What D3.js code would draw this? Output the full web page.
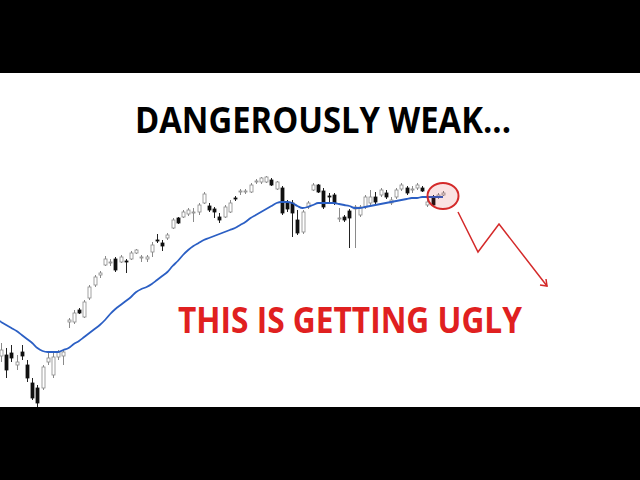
<!DOCTYPE html>
<html><head><meta charset="utf-8">
<script src="https://cdn.jsdelivr.net/npm/d3@7"></script>
<style>html,body{margin:0;padding:0;background:#fff;}svg{display:block;}</style>
</head><body>
<script>
// Daily candles (arbitrary price units)
const openP  = [144,145,147,135,148,135,117,112,112,138,125,143,144,178,178,190,183,202,215,225,235,237,241,238,239,241,247,242,241,248,260,257,262,272,282,283,286,287,288,297,294,291,283,283,288,302,308,308,308,318,318,318,320,311,312,297,297,280,268,293,310,315,309,304,305,281,283,289,291,285,293,297,303,305,307,297,303,311,312,310,312,312,295,303,303,305];
const highP  = [157,152,155,145,155,140,122,115,135,148,148,150,150,182,190,192,200,215,225,229,244,241,243,245,241,249,251,245,245,258,266,260,267,282,283,290,292,292,297,308,297,293,287,295,300,304,311,311,317,321,323,324,322,319,314,300,300,290,290,299,317,316,312,307,307,292,285,291,295,295,305,310,308,312,310,303,312,317,314,314,317,314,300,305,307,309];
const lowP   = [138,122,138,130,140,118,100, 93,110,135,122,140,135,172,176,186,182,200,213,222,234,234,228,237,227,240,246,238,238,243,257,249,260,271,276,282,284,278,285,296,288,282,277,282,287,299,305,306,307,316,316,317,314,310,285,288,263,265,266,291,309,307,291,297,295,278,278,252,252,283,291,295,296,303,301,295,301,309,305,307,310,308,293,293,301,304];
const closeP = [150,130,142,138,144,122,102, 97,133,142,143,148,148,180,187,187,198,213,223,227,241,238,230,243,238,247,250,243,243,255,259,254,265,280,277,288,290,288,295,306,290,288,280,293,297,301,309,309,315,319,322,323,315,318,287,291,287,267,288,297,315,308,293,303,297,282,280,282,293,293,303,303,298,310,303,300,310,315,307,311,315,309,298,295,305,307];
// Moving average (started before the visible window)
const maP    = [178,175,172,169,165,161,157,152,149,148,148,148,150,152,156,159,163,167,171,175,180,186,191,195,199,203,208,211,213,216,220,224,228,234,239,245,250,254,257,260,262,264,266,268,270,272,275,278,282,285,288,291,294,297,298,298,297,294,292,293,295,297,297,297,297,296,295,294,292,292,293,294,295,296,297,298,299,300,301,302,302,303,303,303,303,303];
const titleText = "DANGEROUSLY WEAK...";
const calloutText = "THIS IS GETTING UGLY";

const W = 640, H = 480;
const svg = d3.select("body").append("svg").attr("width", W).attr("height", H);
svg.append("rect").attr("width", W).attr("height", H).attr("fill", "#fff");

const idx = d3.range(closeP.length);
const x = d3.scaleLinear().domain([0, closeP.length - 1]).range([1, 443]);
const y = d3.scaleLinear().domain([90, 330]).range([410, 170]);

const g = svg.append("g");
// candles
const c = g.selectAll("g.c").data(idx).join("g").attr("class", "c");
c.append("line")
  .attr("x1", i => Math.round(x(i)) + 0.5).attr("x2", i => Math.round(x(i)) + 0.5)
  .attr("y1", i => y(highP[i])).attr("y2", i => y(lowP[i]))
  .attr("stroke", i => closeP[i] >= openP[i] ? "#8a8a8a" : "#222").attr("stroke-width", 1);
c.append("rect")
  .attr("x", i => Math.round(x(i)) - 1)
  .attr("y", i => y(Math.max(openP[i], closeP[i])))
  .attr("width", 3)
  .attr("height", i => Math.max(1, Math.abs(y(openP[i]) - y(closeP[i]))))
  .attr("fill", i => closeP[i] >= openP[i] ? "#fff" : "#111")
  .attr("stroke", i => closeP[i] >= openP[i] ? "#8a8a8a" : "#111")
  .attr("stroke-width", 0.8);

// moving average
const line = d3.line().x(i => x(i)).y(i => y(maP[i])).curve(d3.curveMonotoneX);
g.append("path").attr("d", line(idx)).attr("fill", "none")
  .attr("stroke", "#2b5fc4").attr("stroke-width", 1.8);
g.append("line").attr("x1", 0).attr("x2", x(0)).attr("y1", y(maP[0]) - 1).attr("y2", y(maP[0]))
  .attr("stroke", "#2b5fc4").attr("stroke-width", 1.8);

// highlight ellipse around last candles
const last = closeP.length - 1;
const cx = x(last), cy = y(closeP[last]) + 3;
svg.append("ellipse").attr("cx", cx).attr("cy", cy).attr("rx", 15.5).attr("ry", 13)
  .attr("fill", "rgba(220,40,40,0.13)").attr("stroke", "#d42a2a").attr("stroke-width", 2);

// zigzag arrow
const zz = [[cx + 15, cy + 16], [cx + 35, cy + 56], [cx + 56, cy + 28], [cx + 104, cy + 90]];
svg.append("path").attr("d", d3.line()(zz)).attr("fill", "none")
  .attr("stroke", "#d42a2a").attr("stroke-width", 1.5);
const e = zz[3];
svg.append("path").attr("d", d3.line()([[e[0] - 7, e[1] - 1], e, [e[0] - 1, e[1] - 7]]))
  .attr("fill", "none").attr("stroke", "#d42a2a").attr("stroke-width", 1.5);

// texts
svg.append("text").attr("x", 323).attr("y", 133).attr("text-anchor", "middle")
  .attr("font-family", "'Open Sans', sans-serif").attr("font-weight", 700).attr("font-size", 36)
  .attr("textLength", 376).attr("lengthAdjust", "spacingAndGlyphs")
  .attr("fill", "#000").text(titleText);
svg.append("text").attr("x", 350).attr("y", 333).attr("text-anchor", "middle")
  .attr("font-family", "'Open Sans', sans-serif").attr("font-weight", 700).attr("font-size", 36)
  .attr("textLength", 344).attr("lengthAdjust", "spacingAndGlyphs")
  .attr("fill", "#e02020").text(calloutText);

// letterbox bars
svg.append("rect").attr("x", 0).attr("y", 0).attr("width", W).attr("height", 73).attr("fill", "#000");
svg.append("rect").attr("x", 0).attr("y", 407).attr("width", W).attr("height", 73).attr("fill", "#000");
</script>
</body></html>
